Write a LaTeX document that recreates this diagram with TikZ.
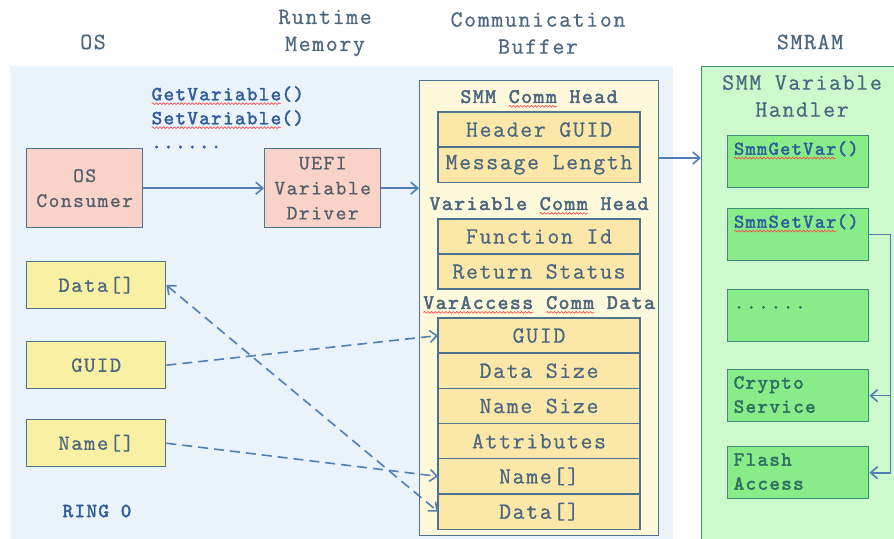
\documentclass[tikz,border=0pt]{standalone}
\usepackage{fontspec}
\setmainfont{Latin Modern Mono}[LetterSpace=7, UprightFeatures={FakeBold=0.6}, BoldFont={Latin Modern Mono}, BoldFeatures={FakeBold=2.2}]
\usetikzlibrary{positioning, arrows.meta, decorations.pathmorphing}

\definecolor{ink}{HTML}{4A6680}
\definecolor{grayink}{HTML}{525E68}
\definecolor{bluetxt}{HTML}{2F5C9C}
\definecolor{edge}{HTML}{4D7391}
\definecolor{osbg}{HTML}{EAF2FA}
\definecolor{bufbg}{HTML}{FFF9DC}
\definecolor{rowfill}{HTML}{FBE8A8}
\definecolor{argfill}{HTML}{FAF0A4}
\definecolor{pinkfill}{HTML}{F9D2C8}
\definecolor{smmbg}{HTML}{CDFACD}
\definecolor{smmbox}{HTML}{88EC88}
\definecolor{smmedge}{HTML}{3F8A78}
\definecolor{smmink}{HTML}{2F6E62}
\definecolor{wireblue}{HTML}{4F7FB5}

% red wavy spell-check underline
\newcommand{\spell}[1]{\tikz[baseline=(sp.base)]{\node[inner sep=0pt, outer sep=0pt] (sp) {#1};
    \draw[red!75, line width=0.3pt, decorate, decoration={snake, amplitude=0.45pt, segment length=1.8pt}] ([yshift=-1.7pt]sp.base west) -- ([yshift=-1.7pt]sp.base east);}}

\begin{document}
\begin{tikzpicture}[x=0.5pt, y=-0.5pt,
    title/.style={text=ink, font=\fontsize{11.6}{13.5}\selectfont, align=center},
    row/.style={draw=edge, fill=rowfill, line width=0.7pt, minimum width=101pt, minimum height=17.6pt, outer sep=0pt, inner sep=0pt, text=ink, font=\fontsize{11.6}{13}\selectfont},
    rowhead/.style={text=ink, font=\bfseries\fontsize{10.4}{12}\selectfont, inner sep=1pt},
    argbox/.style={draw=edge, fill=argfill, line width=0.7pt, anchor=north west, minimum width=69.5pt, minimum height=23.5pt, text=ink, font=\fontsize{10.8}{12}\selectfont},
    drvbox/.style={draw=edge, fill=pinkfill, line width=0.7pt, anchor=north west, minimum width=58pt, minimum height=39.5pt, align=center, text=grayink, font=\fontsize{10.3}{12.5}\selectfont},
    gbox/.style={draw=smmedge, fill=smmbox, line width=0.7pt, anchor=north west, text width=64.5pt, align=left, inner xsep=3pt, inner ysep=2pt, text height=7.5pt, text depth=14.5pt, text=smmink, font=\fontsize{10.3}{12}\selectfont},
    wire/.style={draw=wireblue, line width=0.8pt, -{Straight Barb[length=3.5pt,width=6pt]}},
    dwire/.style={wire, dash pattern=on 5pt off 3pt}]
    \useasboundingbox (0,0) rectangle (894,539);
    \fill[osbg] (10,66) rectangle (673,545);

    % column titles
    \node[title] (tos) at (93,42) {OS};
    \node[title] (trun) at (325,33) {Runtime\\Memory};
    \node[title] (tbuf) at (538,33) {Communication\\Buffer};
    \node[title] (tsmram) at (810,42) {SMRAM};

    % OS side
    \node[drvbox] (osc) at (26,148) {OS\\Consumer};
    \node[drvbox] (uefi) at (264,148) {UEFI\\Variable\\Driver};
    \node[anchor=north west, inner sep=0pt, align=left, text=bluetxt, font=\bfseries\fontsize{10}{12}\selectfont] (calls) at (151,86) {\spell{GetVariable}()\\\spell{SetVariable}()\\......};
    \node[argbox] (dataarg) at (26,261) {Data[]};
    \node[argbox] (guidarg) at (26,341) {GUID};
    \node[argbox] (namearg) at (26,419) {Name[]};
    \node[text=bluetxt, font=\bfseries\fontsize{10}{12}\selectfont] (ring) at (97,511) {RING 0};

    % communication buffer
    \node[draw=edge, fill=bufbg, line width=0.7pt, anchor=north west, minimum width=119.5pt, minimum height=227.5pt] (buf) at (419,80) {};
    \node[row, anchor=north west] (hguid) at (438,112) {Header GUID};
    \node[row, below=0pt of hguid] (msglen) {Message Length};
    \node[rowhead, above=1pt of hguid] (smmhead) {SMM \spell{Comm} Head};
    \node[row, anchor=north west, minimum height=17.5pt] (fid) at (438,219) {Function Id};
    \node[row, below=0pt of fid, minimum height=17.5pt] (rstat) {Return Status};
    \node[rowhead, above=1pt of fid] (varhead) {Variable \spell{Comm} Head};
    \node[row, anchor=north west] (guid) at (438,318) {GUID};
    \node[row, below=0pt of guid] (dsize) {Data Size};
    \node[row, below=0pt of dsize] (nsize) {Name Size};
    \node[row, below=0pt of nsize] (attr) {Attributes};
    \node[row, below=0pt of attr] (name) {Name[]};
    \node[row, below=0pt of name] (data) {Data[]};
    \node[rowhead, above=1pt of guid] (varacc) {\spell{VarAccess} \spell{Comm} Data};

    % SMRAM
    \node[draw=smmedge, fill=smmbg, line width=0.7pt, anchor=north west, minimum width=101pt, minimum height=240pt] (smram) at (701,66) {};
    \node[title] (handler) at (802,96) {SMM Variable\\Handler};
    \node[gbox, text=bluetxt, font=\bfseries\fontsize{9.7}{12}\selectfont] (getvar) at (727,135) {\spell{SmmGetVar}()};
    \node[gbox, text=bluetxt, font=\bfseries\fontsize{9.7}{12}\selectfont] (setvar) at (727,208) {\spell{SmmSetVar}()};
    \node[gbox] (more) at (727,289) {......};
    \node[gbox, font=\bfseries\fontsize{10}{12}\selectfont] (crypto) at (727,369) {Crypto\\Service};
    \node[gbox, font=\bfseries\fontsize{10}{12}\selectfont] (flash) at (727,446) {Flash\\Access};

    % connectors
    \draw[wire] (osc) -- (uefi);
    \draw[wire] (uefi.east) -- (uefi.east -| buf.west);
    \coordinate (bufout) at (658,158);
    \draw[wire] (bufout) -- (bufout -| smram.west);
    \draw[wire] (setvar.east) -- ++(21,0) coordinate (bus) |- (crypto.east);
    \draw[wire] (bus) |- (flash.east);
    \draw[dwire] (guidarg.east) -- (guid.west);
    \draw[dwire] (namearg.east) -- (name.west);
    \draw[dwire, {Straight Barb[length=3.5pt,width=6pt]}-{Straight Barb[length=3.5pt,width=6pt]}] (dataarg.east) -- (data.west);
\end{tikzpicture}
\end{document}
